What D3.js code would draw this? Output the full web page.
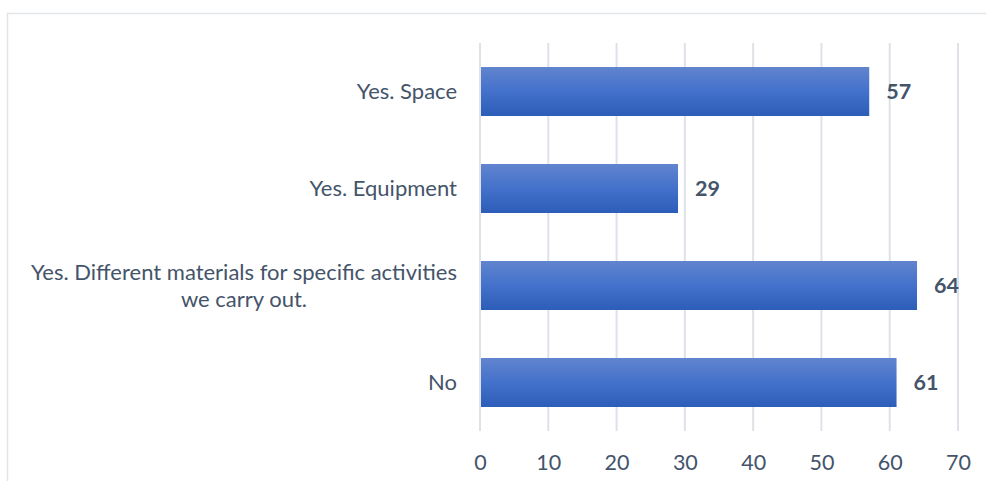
<!DOCTYPE html>
<html><head><meta charset="utf-8">
<script src="https://cdn.jsdelivr.net/npm/d3@7"></script>
<style>html,body{margin:0;padding:0;background:#fff;}svg{display:block;}</style>
</head><body>
<svg id="chart" width="986" height="481"></svg>
<script>
const categories = [["Yes. Space"], ["Yes. Equipment"], ["Yes. Different materials for specific activities", "we carry out."], ["No"]];
const values = [57, 29, 64, 61];
const ticks = [0, 10, 20, 30, 40, 50, 60, 70];

const svg = d3.select("#chart");
const font = "Lato, 'Open Sans', sans-serif";
const textColor = "#44546A";

// chart border (cropped)
svg.append("rect").attr("x", 7.5).attr("y", 13.5).attr("width", 1000).attr("height", 500)
  .attr("fill", "none").attr("stroke", "#E1E5EA").attr("stroke-width", 1.5);

const x = d3.scaleLinear().domain([0, 70]).range([480, 958]);
const y = d3.scaleBand().domain(d3.range(categories.length)).range([43, 431]).paddingInner(0.495).paddingOuter(0.2475);

const defs = svg.append("defs");
const grad = defs.append("linearGradient").attr("id", "barGrad").attr("x1", 0).attr("y1", 0).attr("x2", 0).attr("y2", 1);
grad.append("stop").attr("offset", "0%").attr("stop-color", "#6184CE");
grad.append("stop").attr("offset", "50%").attr("stop-color", "#4371CB");
grad.append("stop").attr("offset", "100%").attr("stop-color", "#2C5DB8");

// gridlines
svg.append("g").selectAll("line").data(ticks).join("line")
  .attr("x1", d => x(d)).attr("x2", d => x(d)).attr("y1", 43).attr("y2", 431)
  .attr("stroke", "#DEE2E8").attr("stroke-width", 2);

// x axis labels
const xAxis = svg.append("g").attr("transform", "translate(0,431)")
  .call(d3.axisBottom(x).tickValues(ticks).tickSize(0).tickPadding(24));
xAxis.select(".domain").remove();
xAxis.selectAll("text").attr("font-family", font).attr("font-size", 21.5).attr("fill", textColor);

// bars
svg.append("g").selectAll("rect").data(values).join("rect")
  .attr("x", x(0) + 1).attr("y", (d, i) => y(i))
  .attr("width", d => x(d) - x(0) - 1).attr("height", y.bandwidth())
  .attr("fill", "url(#barGrad)");

// value labels
svg.append("g").selectAll("text").data(values).join("text")
  .attr("x", d => x(d) + 17).attr("y", (d, i) => y(i) + y.bandwidth() / 2)
  .attr("dy", "0.35em").attr("font-family", font).attr("font-size", 21.5).attr("font-weight", "bold")
  .attr("fill", textColor).text(d => d);

// category labels
const lineH = 27;
categories.forEach((lines, i) => {
  const cy = y(i) + y.bandwidth() / 2;
  const g = svg.append("g");
  const t = g.append("text").attr("font-family", font).attr("font-size", 22).attr("fill", textColor)
    .attr("text-anchor", "middle");
  lines.forEach((ln, j) => {
    t.append("tspan").attr("x", 0).attr("y", cy + (j - (lines.length - 1) / 2) * lineH).attr("dy", "0.35em").text(ln);
  });
  const w = t.node().getBBox().width;
  g.attr("transform", `translate(${457 - w / 2},0)`);
});
</script>
</body></html>
